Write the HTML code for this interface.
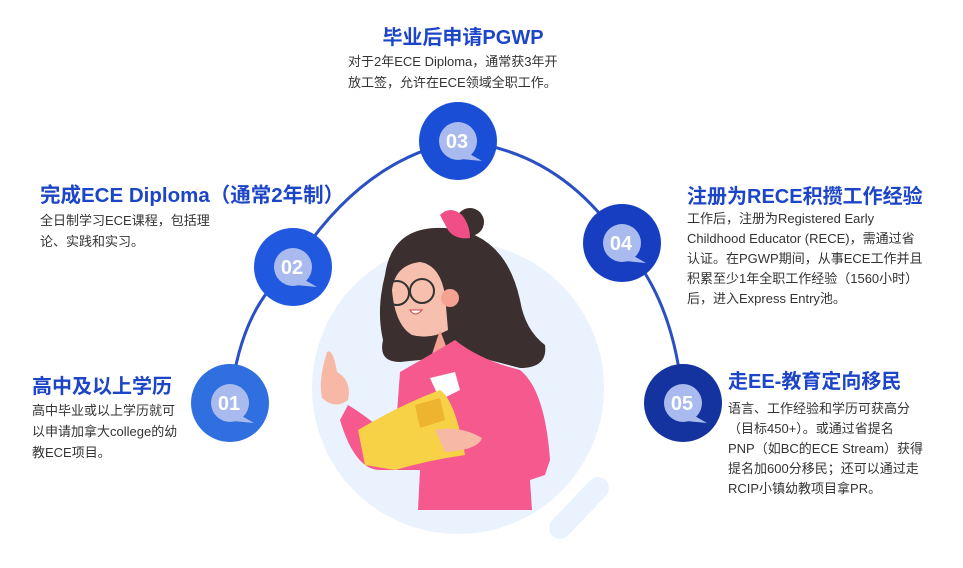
<!DOCTYPE html>
<html><head><meta charset="utf-8"><style>
body{margin:0;width:963px;height:568px;background:#fff;position:relative;overflow:hidden;font-family:"Liberation Sans","Noto Sans CJK SC",sans-serif;}
.t{position:absolute;color:#1d45c8;font-weight:bold;font-size:20px;white-space:nowrap;line-height:24px}
.p{position:absolute;color:#333;font-size:13px;line-height:21px;white-space:nowrap}
svg{position:absolute;left:0;top:0}
</style></head><body>
<svg width="963" height="568" viewBox="0 0 963 568">
<defs><g id="bub"><circle r="19" fill="#a9bbee"/><path d="M10,12 L24,20 L3,18Z" fill="#a9bbee"/></g></defs>
<circle cx="458" cy="388" r="146" fill="#eaf3fd"/>
<path d="M560,528 L598,488" stroke="#eaf3fd" stroke-width="22" stroke-linecap="round"/>
<path d="M230,403 Q240,305 293,267 Q360,160 458,141 Q560,150 622,243 Q675,300 683,403" fill="none" stroke="#2a50c4" stroke-width="3"/>
<!-- girl -->
<path d="M385,275 Q392,225 445,228 Q505,232 520,300 Q525,330 545,345 Q548,368 520,368 L470,355 L400,362 Q378,362 383,340 Q376,310 385,275Z" fill="#3b2f2f"/>
<circle cx="470" cy="222" r="14" fill="#3b2f2f"/>
<path d="M440,215 Q450,205 462,215 Q470,225 470,238 Q455,240 448,230Z" fill="#ef4f86"/>
<path d="M392,290 Q395,265 420,262 Q440,265 445,295 L448,330 Q430,340 412,335 Q395,325 392,290Z" fill="#f7c0ae"/>
<circle cx="450" cy="298" r="9" fill="#f4a393"/>
<circle cx="397" cy="293" r="12" fill="none" stroke="#333" stroke-width="2"/>
<circle cx="422" cy="291" r="12" fill="none" stroke="#333" stroke-width="2"/>
<path d="M410,310 Q415,318 422,310Z" fill="#fff" stroke="#c44" stroke-width="1"/>
<path d="M440,330 L455,370 L425,375Z" fill="#f4a393"/>
<path d="M400,372 Q430,355 455,340 Q480,360 520,370 Q545,390 550,460 L545,475 L530,480 L532,510 L418,510 L420,470 Q400,470 380,470 Q355,470 340,420 L348,405 Q365,415 395,440Z" fill="#f5598d"/>
<path d="M430,378 L455,372 L460,390 L440,400Z" fill="#fff"/>
<path d="M327,352 Q333,348 337,372 Q352,380 348,400 Q335,410 322,398 Q318,380 327,352Z" fill="#f7b9a6"/>
<path d="M358,430 Q400,405 440,390 Q455,400 465,455 Q430,460 395,470 L365,465Z" fill="#f7d146"/>
<path d="M415,405 L440,398 L445,420 L420,428Z" fill="#eeb430"/>
<path d="M435,430 Q460,425 482,438 Q478,450 445,452Z" fill="#f7b9a6"/>
<!-- nodes -->
<circle cx="230" cy="403" r="39" fill="#2f6fe0"/><use href="#bub" x="230" y="403"/>
<circle cx="293" cy="267" r="39" fill="#2059e0"/><use href="#bub" x="293" y="267"/>
<circle cx="458" cy="141" r="39" fill="#1a4ed6"/><use href="#bub" x="458" y="141"/>
<circle cx="622" cy="243" r="39" fill="#173ec0"/><use href="#bub" x="622" y="243"/>
<circle cx="683" cy="403" r="39" fill="#15339e"/><use href="#bub" x="683" y="403"/>
<g fill="#fff" font-family="Liberation Sans,sans-serif" font-weight="bold" font-size="20" text-anchor="middle">
<text x="229" y="410">01</text><text x="292" y="274">02</text><text x="457" y="148">03</text><text x="621" y="250">04</text><text x="682" y="410">05</text></g>
</svg>
<div class="t" style="left:0;width:926px;text-align:center;top:26px;font-size:20px">毕业后申请PGWP</div>
<div class="p" style="left:348px;top:51px">对于2年ECE Diploma，通常获3年开<br>放工签，允许在ECE领域全职工作。</div>
<div class="t" style="left:40px;top:184px;font-size:20.5px">完成ECE Diploma（通常2年制）</div>
<div class="p" style="left:40px;top:210px">全日制学习ECE课程，包括理<br>论、实践和实习。</div>
<div class="t" style="left:32px;top:375px">高中及以上学历</div>
<div class="p" style="left:32px;top:400px">高中毕业或以上学历就可<br>以申请加拿大college的幼<br>教ECE项目。</div>
<div class="t" style="left:687px;top:185px">注册为RECE积攒工作经验</div>
<div class="p" style="left:687px;top:209px;line-height:20px">工作后，注册为Registered Early<br>Childhood Educator (RECE)，需通过省<br>认证。在PGWP期间，从事ECE工作并且<br>积累至少1年全职工作经验（1560小时）<br>后，进入Express Entry池。</div>
<div class="t" style="left:728px;top:370px">走EE-教育定向移民</div>
<div class="p" style="left:728px;top:399px;line-height:20px">语言、工作经验和学历可获高分<br>（目标450+）。或通过省提名<br>PNP（如BC的ECE Stream）获得<br>提名加600分移民；还可以通过走<br>RCIP小镇幼教项目拿PR。</div>
</body></html>
